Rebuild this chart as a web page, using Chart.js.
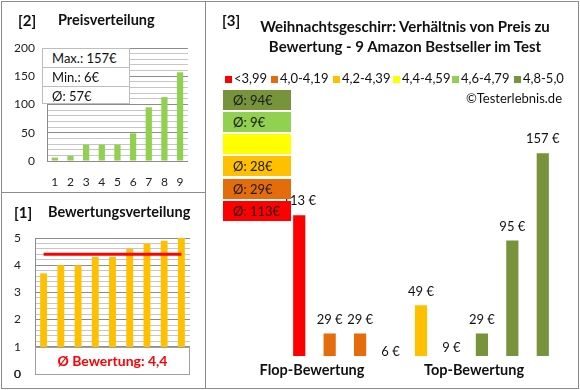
<!DOCTYPE html>
<html>
<head>
<meta charset="utf-8">
<script src="https://cdn.jsdelivr.net/npm/chart.js@4.4.1/dist/chart.umd.min.js"></script>
<style>
    body { margin: 0; background: #fff; font-family: Lato, sans-serif; color: #111; }
    #wrap { position: relative; width: 580px; height: 390px; overflow: hidden; background: #fff; }
    .abs { position: absolute; white-space: nowrap; }
    canvas { position: absolute; }
    .line { position: absolute; background: #8c8c8c; }
    .hd { font-weight: bold; font-size: 15px; height: 18px; line-height: 18px; }
    .sub { font-weight: bold; font-size: 14.5px; height: 18px; line-height: 18px; }
    .stat { position: absolute; left: 42px; width: 88px; background: #fff; border: 1px solid #bdbdbd; box-sizing: border-box; font-size: 13px; padding-left: 9px; }
    .avg { position: absolute; left: 223px; width: 68px; height: 20px; line-height: 20px; font-size: 13px; padding-left: 10px; box-sizing: border-box; color: #1a1a1a; }
    .lg { position: absolute; top: 71px; height: 15px; line-height: 15px; font-size: 13px; }
    .lg i { display: inline-block; width: 7px; height: 7px; margin-right: 2px; vertical-align: 0px; }
</style>
</head>
<body>
<div id="wrap">
    <canvas id="priceChart" width="198" height="192" style="left:0;top:0"></canvas>
    <canvas id="ratingChart" width="205" height="196" style="left:0;top:192px"></canvas>
    <canvas id="mainChart" width="372" height="388" style="left:206px;top:0"></canvas>

    <div class="line" style="left:1px;top:1px;width:577px;height:1px"></div>
    <div class="line" style="left:1px;top:388px;width:578px;height:1px"></div>
    <div class="line" style="left:1px;top:1px;width:1px;height:388px"></div>
    <div class="line" style="left:578px;top:1px;width:1px;height:388px"></div>
    <div class="line" style="left:205px;top:1px;width:1px;height:388px"></div>
    <div class="line" style="left:1px;top:192px;width:205px;height:1px"></div>

    <div class="abs hd" style="left:18px;top:11px">[2]</div>
    <div class="abs sub" style="left:58px;top:11px">Preisverteilung</div>
    <div class="abs hd" style="left:14px;top:203px">[1]</div>
    <div class="abs sub" style="left:48px;top:203px">Bewertungsverteilung</div>
    <div class="abs hd" style="left:222px;top:11px">[3]</div>
    <div class="abs sub" style="left:220px;top:17px;width:370px;text-align:center;font-size:15px">Weihnachtsgeschirr: Verhältnis von Preis zu</div>
    <div class="abs sub" style="left:220px;top:37px;width:370px;text-align:center;font-size:15px">Bewertung - 9 Amazon Bestseller im Test</div>
    <div class="abs" style="left:462px;top:90px;width:100px;text-align:right;font-size:13px;line-height:16px">©Testerlebnis.de</div>
    <div class="abs sub" style="left:252px;top:361px;width:120px;text-align:center">Flop-Bewertung</div>
    <div class="abs sub" style="left:414px;top:361px;width:120px;text-align:center">Top-Bewertung</div>

    <div id="stats"></div>
    <div id="legend"></div>
    <div id="avgBoxes"></div>
</div>

<script>
    // Preise der 9 Produkte, sortiert nach Bewertung (Diagramm [3])
    const products = ['1', '2', '3', '4', '5', '6', '7', '8', '9'];
    const prices = [113, 29, 29, 6, 49, 9, 29, 95, 157];
    const ratings = [3.7, 4.0, 4.0, 4.3, 4.3, 4.6, 4.8, 4.9, 5.0];

    // Preisverteilung [2]
    const sortedPrices = [6, 9, 29, 29, 29, 49, 95, 113, 157];

    // Durchschnittslinie [1]
    const avgRatingLine = [4.4, 4.4, 4.4, 4.4, 4.4, 4.4, 4.4, 4.4, 4.4];

    // Bewertungsklassen
    const classLabels = ['<3,99', '4,0-4,19', '4,2-4,39', '4,4-4,59', '4,6-4,79', '4,8-5,0'];
    const classColors = ['#FF0000', '#E46C0A', '#FFC000', '#FFFF00', '#92D050', '#77933C'];
    const classUpper = [4.0, 4.2, 4.4, 4.6, 4.8, 5.01];

    const gridMinor = '#c6c6c6';
    const gridMajor = '#8c8c8c';
    const tickColor = '#222';

    Chart.defaults.font.family = 'Lato, sans-serif';

    function classOf(r) {
        return classUpper.findIndex(u => r < u);
    }

    // --- Statistik-Box [2]
    const pMax = Math.max(...sortedPrices);
    const pMin = Math.min(...sortedPrices);
    const pAvg = Math.round(sortedPrices.reduce((a, b) => a + b, 0) / sortedPrices.length);
    const statRows = ['Max.: ' + pMax + '€', 'Min.: ' + pMin + '€', 'Ø: ' + pAvg + '€'];
    const statTops = [48, 67, 86];
    document.getElementById('stats').innerHTML = statRows.map((t, i) =>
        `<div class="stat" style="top:${statTops[i]}px;height:${i === 2 ? 18 : 20}px;line-height:18px">${t}</div>`).join('');

    // --- Legende [3]
    const legendLeft = [225, 271, 333, 393, 452, 514];
    document.getElementById('legend').innerHTML = classLabels.map((t, i) =>
        `<div class="lg" style="left:${legendLeft[i]}px"><i style="background:${classColors[i]}"></i>${t}</div>`).join('');

    // --- Durchschnittspreise je Klasse
    const boxTops = [90, 112, 134, 156, 179, 201];
    let boxHtml = '';
    for (let k = classLabels.length - 1, row = 0; k >= 0; k--, row++) {
        const inClass = prices.filter((p, i) => classOf(ratings[i]) === k);
        const txt = inClass.length ? 'Ø: ' + Math.round(inClass.reduce((a, b) => a + b, 0) / inClass.length) + '€' : '';
        boxHtml += `<div class="avg" style="top:${boxTops[row]}px;background:${classColors[k]}">${txt}</div>`;
    }
    document.getElementById('avgBoxes').innerHTML = boxHtml;

    const noUi = {
        responsive: false,
        animation: false,
        events: [],
        plugins: { legend: { display: false }, tooltip: { enabled: false } }
    };

    // --- [2] Preisverteilung
    new Chart(document.getElementById('priceChart'), {
        type: 'bar',
        data: {
            labels: products,
            datasets: [{ data: sortedPrices, backgroundColor: '#92D050', barPercentage: 1, categoryPercentage: 0.4 }]
        },
        options: {
            ...noUi,
            layout: { padding: { top: 48, right: 8 } },
            scales: {
                x: {
                    grid: { display: false, drawTicks: false },
                    border: { color: gridMajor },
                    ticks: { color: tickColor, font: { size: 12 }, padding: 14 },
                    afterFit(s) { s.height = 31; }
                },
                y: {
                    min: 0,
                    max: 200,
                    ticks: {
                        stepSize: 10,
                        autoSkip: false,
                        color: tickColor,
                        font: { size: 12 },
                        padding: 12,
                        callback: v => (v % 50 === 0 ? String(v) : '')
                    },
                    grid: { drawTicks: false, color: c => (c.tick.value % 50 === 0 ? gridMajor : gridMinor) },
                    border: { color: gridMajor },
                    afterFit(s) { s.width = 47; }
                }
            }
        }
    });

    // --- [1] Bewertungsverteilung
    const avgRating = ratings.reduce((a, b) => a + b, 0) / ratings.length;

    // weisse Box zwischen 0 und 1 mit dem Durchschnitt
    const ratingBox = {
        id: 'ratingBox',
        afterDatasetsDraw(chart) {
            const { ctx, chartArea: a, scales: { y } } = chart;
            const top = Math.round(y.getPixelForValue(1));
            const bottom = Math.round(y.getPixelForValue(0));
            ctx.save();
            ctx.fillStyle = '#fff';
            ctx.fillRect(a.left + 1, top, a.width - 1, bottom - top);
            ctx.strokeStyle = '#a0a0a0';
            ctx.lineWidth = 1;
            ctx.strokeRect(Math.round(a.left) + 0.5, top + 0.5, Math.round(a.width) - 1, bottom - top);
            ctx.fillStyle = '#FF0000';
            ctx.font = 'bold 14px Lato, sans-serif';
            ctx.textAlign = 'center';
            ctx.textBaseline = 'middle';
            ctx.fillText('Ø Bewertung: ' + avgRating.toFixed(1).replace('.', ','), (a.left + a.right) / 2, (top + bottom) / 2 + 1);
            ctx.restore();
        },
        // die "0" an der Achse fehlte sonst
        afterDraw(chart) {
            const { ctx, scales: { y } } = chart;
            ctx.save();
            ctx.font = '12px Lato, sans-serif';
            ctx.fillStyle = tickColor;
            ctx.textAlign = 'right';
            ctx.textBaseline = 'middle';
            ctx.fillText('0', y.right - y.options.ticks.padding, y.getPixelForValue(0));
            ctx.restore();
        }
    };

    new Chart(document.getElementById('ratingChart'), {
        type: 'bar',
        data: {
            labels: products,
            datasets: [
                {
                    type: 'line',
                    data: avgRatingLine,
                    borderColor: '#FF0000',
                    borderWidth: 3,
                    pointRadius: 0,
                    order: 0
                },
                {
                    data: ratings,
                    backgroundColor: '#FFC000',
                    barPercentage: 1,
                    categoryPercentage: 0.4,
                    order: 1
                }
            ]
        },
        options: {
            ...noUi,
            layout: { padding: { top: 46, right: 15, bottom: 14 } },
            scales: {
                x: { display: false },
                y: {
                    min: 0,
                    max: 5,
                    ticks: {
                        stepSize: 0.2,
                        autoSkip: false,
                        color: tickColor,
                        font: { size: 12 },
                        padding: 14,
                        callback: v => (Math.abs(v - Math.round(v)) < 1e-6 ? String(Math.round(v)) : '')
                    },
                    grid: {
                        drawTicks: false,
                        color: c => (Math.abs(c.tick.value - Math.round(c.tick.value)) < 1e-6 ? gridMajor : gridMinor)
                    },
                    border: { color: gridMajor },
                    afterFit(s) {
                        s.width = 35;
                        s.paddingTop = 0;
                        s.paddingBottom = 0;
                    }
                }
            }
        },
        plugins: [ratingBox]
    });

    // --- [3] Preis zu Bewertung
    const barLabels = {
        id: 'barLabels',
        afterDatasetsDraw(chart) {
            const { ctx, chartArea: a, scales: { y } } = chart;
            const meta = chart.getDatasetMeta(0);
            ctx.save();
            ctx.beginPath();
            ctx.rect(a.left - 30, 0, a.width + 60, a.bottom);
            ctx.clip();
            ctx.font = '13px Lato, sans-serif';
            ctx.fillStyle = '#111';
            ctx.textAlign = 'center';
            ctx.textBaseline = 'middle';
            meta.data.forEach((bar, i) => {
                ctx.fillText(prices[i] + ' €', bar.x, y.getPixelForValue(prices[i]) - 14);
            });
            ctx.restore();
        }
    };

    new Chart(document.getElementById('mainChart'), {
        type: 'bar',
        data: {
            labels: products,
            datasets: [{
                data: prices,
                backgroundColor: ratings.map(r => classColors[classOf(r)]),
                barPercentage: 1,
                categoryPercentage: 0.4,
                clip: 0
            }]
        },
        options: {
            ...noUi,
            layout: { padding: { left: 78, right: 20, top: 135, bottom: 32 } },
            scales: {
                x: { display: false },
                y: { display: false, min: 13, max: 170 }
            }
        },
        plugins: [barLabels]
    });
</script>
</body>
</html>
